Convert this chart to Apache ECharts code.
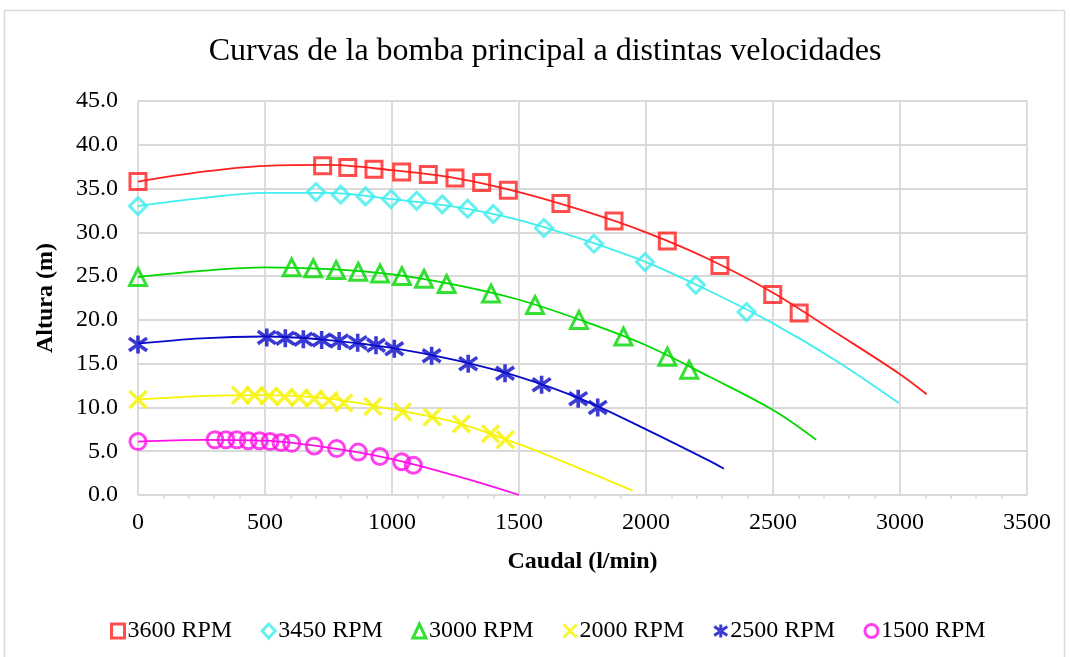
<!DOCTYPE html>
<html>
<head>
<meta charset="utf-8">
<script src="https://cdn.jsdelivr.net/npm/echarts@6/dist/echarts.min.js"></script>
<style>
html,body{margin:0;padding:0;background:#fff;}
#chart{width:1070px;height:657px;}
</style>
</head>
<body>
<div id="chart"></div>
<script>
// ---- Data ----
const seriesNames = ['3600 RPM', '3450 RPM', '3000 RPM', '2000 RPM', '2500 RPM', '1500 RPM'];

const flow3600 = [0, 727, 826, 929, 1038, 1143, 1248, 1353, 1458, 1665, 1874, 2084, 2291, 2499, 2603];
const head3600 = [35.8, 37.6, 37.4, 37.2, 36.9, 36.6, 36.2, 35.7, 34.8, 33.3, 31.3, 29.0, 26.2, 22.9, 20.8];

const flow3450 = [0, 701, 798, 896, 996, 1097, 1198, 1298, 1399, 1598, 1795, 1996, 2196, 2396];
const head3450 = [33.0, 34.6, 34.3, 34.1, 33.8, 33.6, 33.2, 32.7, 32.1, 30.5, 28.7, 26.6, 24.0, 20.9];

const flow3000 = [0, 605, 690, 780, 867, 953, 1039, 1126, 1215, 1390, 1563, 1736, 1911, 2084, 2170];
const head3000 = [24.9, 26.0, 25.9, 25.7, 25.5, 25.3, 25.0, 24.7, 24.1, 23.0, 21.7, 20.0, 18.1, 15.8, 14.3];

const flow2000 = [0, 404, 459, 516, 577, 635, 693, 752, 810, 925, 1041, 1158, 1273, 1388, 1446];
const head2000 = [10.9, 11.4, 11.4, 11.3, 11.2, 11.1, 11.0, 10.8, 10.5, 10.1, 9.5, 8.9, 8.1, 7.0, 6.3];

const flow2500 = [0, 507, 580, 651, 723, 792, 865, 937, 1009, 1156, 1300, 1445, 1589, 1733, 1810];
const head2500 = [17.2, 18.0, 17.9, 17.8, 17.7, 17.6, 17.4, 17.1, 16.7, 15.9, 15.0, 13.9, 12.6, 11.0, 10.0];

const flow1500 = [0, 303, 346, 389, 434, 478, 520, 563, 605, 694, 782, 867, 952, 1038, 1084];
const head1500 = [6.1, 6.3, 6.3, 6.3, 6.2, 6.2, 6.1, 6.0, 5.9, 5.6, 5.3, 4.9, 4.4, 3.8, 3.4];

// trend curves
const curveQ3600 = [0, 250, 500, 750, 1000, 1250, 1500, 1750, 2000, 2250, 2500, 2750, 3000, 3105];
const curveH3600 = [35.8, 36.9, 37.6, 37.7, 37.1, 36.2, 34.6, 32.5, 30.0, 26.9, 23.1, 18.5, 13.8, 11.5];
const curveQ3450 = [0, 250, 500, 750, 1000, 1250, 1500, 1750, 2000, 2250, 2500, 2750, 2995];
const curveH3450 = [33.0, 33.9, 34.5, 34.5, 33.8, 32.9, 31.4, 29.2, 26.6, 23.3, 19.6, 15.3, 10.5];
const curveQ3000 = [0, 250, 500, 750, 1000, 1250, 1500, 1750, 2000, 2250, 2500, 2670];
const curveH3000 = [24.9, 25.6, 26.0, 25.8, 25.2, 24.0, 22.3, 19.9, 17.1, 13.5, 9.7, 6.3];
const curveQ2000 = [0, 250, 500, 750, 1000, 1250, 1500, 1750, 1947];
const curveH2000 = [10.9, 11.3, 11.4, 11.0, 9.8, 8.3, 5.8, 2.9, 0.5];
const curveQ2500 = [0, 250, 500, 750, 1000, 1250, 1500, 1750, 2000, 2250, 2307];
const curveH2500 = [17.3, 17.9, 18.1, 17.7, 16.8, 15.4, 13.5, 10.9, 7.5, 3.9, 3.0];
const curveQ1500 = [0, 250, 500, 750, 1000, 1250, 1500];
const curveH1500 = [6.1, 6.3, 6.2, 5.4, 4.1, 2.2, 0.0];

const xTicks = [0, 500, 1000, 1500, 2000, 2500, 3000, 3500];
const yTicks = [0, 5, 10, 15, 20, 25, 30, 35, 40, 45];

// ---- Presentation ----
const FONT = "'Liberation Serif', 'Times New Roman', serif";
const zip = (a, b) => a.map((v, i) => [v, b[i]]);

const defs = [
  {name: seriesNames[0], color: '#ff2020', symbol: 'rect', size: 16, bw: 3, q: flow3600, h: head3600, cq: curveQ3600, ch: curveH3600},
  {name: seriesNames[1], color: '#40eeee', symbol: 'diamond', size: 17, bw: 3, q: flow3450, h: head3450, cq: curveQ3450, ch: curveH3450},
  {name: seriesNames[2], color: '#00d800', symbol: 'triangle', size: 17, bw: 3, q: flow3000, h: head3000, cq: curveQ3000, ch: curveH3000},
  {name: seriesNames[3], color: '#f6f200', symbol: 'path://M0,0L10,10M10,0L0,10', size: 17, bw: 3.6, q: flow2000, h: head2000, cq: curveQ2000, ch: curveH2000},
  {name: seriesNames[4], color: '#0a0ac8', symbol: 'path://M0,1.5L10,8.5M10,1.5L0,8.5M5,0L5,10', size: 18, bw: 3.6, q: flow2500, h: head2500, cq: curveQ2500, ch: curveH2500},
  {name: seriesNames[5], color: '#ff10e8', symbol: 'circle', size: 16, bw: 3, q: flow1500, h: head1500, cq: curveQ1500, ch: curveH1500}
];

const series = [];
defs.forEach(d => {
  series.push({
    name: d.name + ' tendencia',
    type: 'line',
    data: zip(d.cq, d.ch),
    smooth: 0.35,
    showSymbol: false,
    symbol: 'none',
    lineStyle: {color: d.color, width: 1.8},
    itemStyle: {color: d.color},
    silent: true,
    z: 2
  });
});
defs.forEach(d => {
  series.push({
    name: d.name,
    type: 'scatter',
    data: zip(d.q, d.h),
    symbol: d.symbol,
    symbolSize: d.size,
    itemStyle: {color: 'rgba(0,0,0,0)', borderColor: d.color, borderWidth: d.bw},
    z: 3
  });
});

const chart = echarts.init(document.getElementById('chart'), null, {renderer: 'canvas'});
chart.setOption({
  animation: false,
  backgroundColor: '#fff',
  title: {
    text: 'Curvas de la bomba principal a distintas velocidades',
    left: 540, top: 31, textAlign: 'center',
    textStyle: {fontFamily: FONT, fontSize: 32, fontWeight: 'normal', color: '#000'}
  },
  graphic: [{
    type: 'rect', shape: {x: 4.5, y: 10.5, width: 1060, height: 700},
    style: {fill: 'none', stroke: '#d9d9d9', lineWidth: 1.5}, silent: true, z: -1
  }],
  grid: {left: 138, right: 43, top: 101, bottom: 162, containLabel: false},
  legend: {
    data: seriesNames.map((n, i) => ({name: n, itemStyle: {borderWidth: 3, borderColor: defs[i].color, color: 'rgba(0,0,0,0)'}})),
    left: 105, top: 614,
    itemWidth: 13, itemHeight: 14, itemGap: 28.5,
    textStyle: {fontFamily: FONT, fontSize: 24, color: '#000', padding: [0, 0, 0, -2]}
  },
  xAxis: {
    type: 'value', min: xTicks[0], max: xTicks[xTicks.length - 1], interval: 500,
    name: 'Caudal (l/min)', nameLocation: 'middle', nameGap: 55,
    nameTextStyle: {fontFamily: FONT, fontSize: 24, fontWeight: 'bold', color: '#000'},
    axisLine: {show: true, lineStyle: {color: '#d9d9d9', width: 1.5}},
    axisTick: {show: false},
    minorTick: {show: true, splitNumber: 5, length: 4, lineStyle: {color: '#d9d9d9', width: 1.5}},
    axisLabel: {fontFamily: FONT, fontSize: 24, color: '#000', margin: 16, formatter: v => String(v)},
    splitLine: {show: true, lineStyle: {color: '#d9d9d9', width: 1.8}}
  },
  yAxis: {
    type: 'value', min: yTicks[0], max: yTicks[yTicks.length - 1], interval: 5,
    name: 'Altura (m)', nameLocation: 'middle', nameGap: 80, nameRotate: 90,
    nameTextStyle: {fontFamily: FONT, fontSize: 24, fontWeight: 'bold', color: '#000'},
    axisLine: {show: false},
    axisTick: {show: false},
    axisLabel: {fontFamily: FONT, fontSize: 24, color: '#000', margin: 20, formatter: v => v.toFixed(1)},
    splitLine: {show: true, lineStyle: {color: '#d9d9d9', width: 1.8}}
  },
  series: series
});
</script>
</body>
</html>
